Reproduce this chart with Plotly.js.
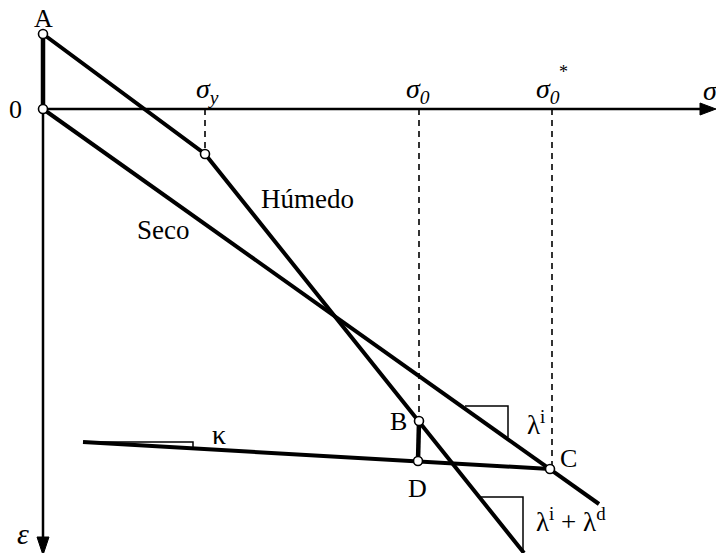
<!DOCTYPE html>
<html>
<head>
<meta charset="utf-8">
<script src="https://cdn.plot.ly/plotly-3.0.1.min.js"></script>
<style>html,body{margin:0;padding:0;background:#fff}#plot{width:716px;height:553px}</style>
</head>
<body>
<div id="plot"></div>
<script>
// Diagram coordinates (stress to the right, strain downward)
const axisSigmaX = [43, 702];
const axisSigmaY = [109, 109];
const axisEpsX = [43, 43];
const axisEpsY = [109, 540];

// Saturated (húmedo) path: A -> yield point -> beyond B
const humedoX = [43, 205, 524];
const humedoY = [34, 154, 553];
// Dry (seco) path: O -> C -> beyond
const secoX = [43, 550, 599];
const secoY = [109, 469, 504];
// Unloading line with slope kappa through D and C
const kappaX = [83, 550];
const kappaY = [442, 469];
// Vertical jumps O-A and D-B
const jumpOAx = [43, 43];
const jumpOAy = [109, 34];
const jumpDBx = [418, 419];
const jumpDBy = [461, 421];

// Dashed guides from the stress axis
const guideSyX = [205, 205], guideSyY = [109, 154];
const guideS0X = [419, 419], guideS0Y = [109, 421];
const guideS0sX = [552, 552], guideS0sY = [109, 469];

// Slope triangles
const triKappaX = [83, 193, 193], triKappaY = [442, 442, 448];
const triLiX = [465, 508, 508], triLiY = [406, 406, 437];
const triLidX = [481, 523, 523], triLidY = [497, 497, 553];

// Marked points: A, O, yield, B, D, C
const ptX = [43, 43, 205, 419, 418, 550];
const ptY = [34, 109, 154, 421, 461, 469];

// Arrow heads
const headSigmaX = [700, 716, 700, 700], headSigmaY = [103, 109, 115, 103];
const headEpsX = [37, 43, 49, 37], headEpsY = [537, 555, 537, 537];

// Labels
const labText = ['A', '0', '<i>σ<sub>y</sub></i>', '<i>σ<sub>0</sub></i>', '<i>σ<sub>0</sub></i>', '*', '<i>σ</i>',
  'Húmedo', 'Seco', 'B', 'C', 'D', 'λ<sup>i</sup>', 'λ<sup>i</sup> + λ<sup>d</sup>', 'κ', '<i>ε</i>'];
const labX = [43, 15, 207, 418, 548, 563, 710, 307, 163, 398, 568, 417, 536, 571, 219, 23];
const labY = [18, 109, 90, 90, 90, 72, 90, 199, 230, 421, 458, 488, 423, 520, 434, 533];
const labSize = [26, 26, 28, 28, 28, 18, 28, 27, 27, 26, 26, 26, 27, 27, 28, 30];

const serif = 'Liberation Serif';
const thick = {color: '#000', width: 4.5};
const medium = {color: '#000', width: 4};
const axisLine = {color: '#000', width: 2.5};
const dashed = {color: '#000', width: 1.6, dash: '6px,5px'};
const thin = {color: '#000', width: 1.5};

function seg(x, y, line) {
  return {x: x, y: y, mode: 'lines', line: line, hoverinfo: 'skip', showlegend: false, type: 'scatter'};
}

const traces = [
  seg(axisSigmaX, axisSigmaY, axisLine),
  seg(axisEpsX, axisEpsY, axisLine),
  seg(guideSyX, guideSyY, dashed),
  seg(guideS0X, guideS0Y, dashed),
  seg(guideS0sX, guideS0sY, dashed),
  seg(triKappaX, triKappaY, thin),
  seg(triLiX, triLiY, thin),
  seg(triLidX, triLidY, thin),
  seg(humedoX, humedoY, medium),
  seg(secoX, secoY, medium),
  seg(kappaX, kappaY, medium),
  seg(jumpOAx, jumpOAy, thick),
  seg(jumpDBx, jumpDBy, thick),
  {x: headSigmaX, y: headSigmaY, mode: 'lines', fill: 'toself', fillcolor: '#000', line: {color: '#000', width: 1}, hoverinfo: 'skip', showlegend: false},
  {x: headEpsX, y: headEpsY, mode: 'lines', fill: 'toself', fillcolor: '#000', line: {color: '#000', width: 1}, hoverinfo: 'skip', showlegend: false},
  {x: ptX, y: ptY, mode: 'markers', marker: {size: 9, color: '#fff', line: {color: '#000', width: 1.6}}, hoverinfo: 'skip', showlegend: false}
];

const annotations = labText.map((t, i) => ({
  x: labX[i], y: labY[i], xref: 'x', yref: 'y', text: t, showarrow: false,
  font: {family: serif, size: labSize[i], color: '#000'}
}));

const layout = {
  width: 716, height: 553,
  margin: {l: 0, r: 0, t: 0, b: 0},
  paper_bgcolor: '#fff', plot_bgcolor: '#fff',
  xaxis: {range: [0, 716], visible: false},
  yaxis: {range: [553, 0], visible: false},
  annotations: annotations,
  showlegend: false
};

Plotly.newPlot('plot', traces, layout, {staticPlot: true});
</script>
</body>
</html>
